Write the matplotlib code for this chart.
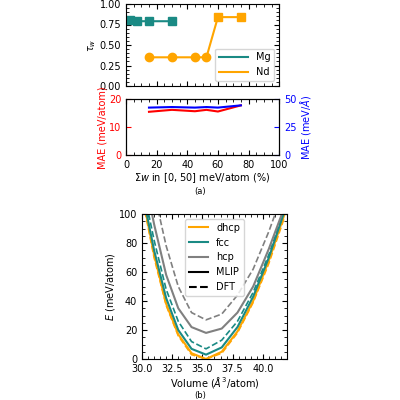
import numpy as np
import matplotlib.pyplot as plt
from matplotlib.lines import Line2D
from matplotlib.ticker import AutoMinorLocator

plt.rcParams["font.size"] = 7

teal = "#1a8a84"
orange = "#ffa500"

# (a) top
mg_x = [2.5, 7.5, 15, 30]
mg_tau = [0.80, 0.79, 0.79, 0.79]
nd_x = [15, 30, 45, 52.5, 60, 75]
nd_tau = [0.35, 0.35, 0.35, 0.35, 0.84, 0.84]
nd_marker = ["o", "o", "o", "o", "s", "s"]

# (a) bottom
mae_x = [15, 30, 45, 52.5, 60, 75]
mae_e = [15.5, 16.2, 15.7, 16.2, 15.6, 17.8]
mae_f = [42.5, 43.0, 42.5, 43.0, 42.5, 44.5]

# (b)
vol = [30.1, 31.0, 32.0, 33.0, 34.1, 35.3, 36.6, 37.9, 39.2, 40.5, 41.8]
dhcp_mlip = [110, 72, 38, 17, 4, 0, 5, 19, 40, 68, 100]
dhcp_dft = [108, 70, 37, 16, 3, 0, 4, 18, 39, 66, 98]
fcc_mlip = [112, 75, 42, 20, 7, 3, 8, 22, 43, 70, 102]
fcc_dft = [118, 82, 48, 26, 12, 7, 13, 26, 46, 72, 103]
hcp_mlip = [130, 93, 58, 35, 22, 18, 21, 32, 50, 76, 105]
hcp_dft = [150, 115, 78, 50, 32, 27, 31, 44, 62, 88, 118]


def style(ax):
    ax.xaxis.set_minor_locator(AutoMinorLocator())
    ax.yaxis.set_minor_locator(AutoMinorLocator())
    ax.tick_params(which="both", direction="in", top=True, right=True)


fig = plt.figure(figsize=(4, 4), dpi=100)

ax1 = fig.add_axes([0.315, 0.785, 0.383, 0.205])
ax1.plot(mg_x, mg_tau, color=teal, lw=1.5, marker="s", ms=6)
ax1.plot(nd_x, nd_tau, color=orange, lw=1.5)
for x, y, m in zip(nd_x, nd_tau, nd_marker):
    ax1.plot(x, y, marker=m, color=orange, ms=6)
ax1.set_xlim(0, 100)
ax1.set_ylim(0, 1)
ax1.set_yticks([0, 0.25, 0.5, 0.75, 1.0])
ax1.set_xticklabels([])
ax1.set_ylabel(r"$\tau_w$", labelpad=1)
ax1.legend(handles=[Line2D([], [], color=teal, lw=1.5, label="Mg"),
                    Line2D([], [], color=orange, lw=1.5, label="Nd")],
           loc="lower right", handlelength=3)
style(ax1)

ax2 = fig.add_axes([0.315, 0.612, 0.383, 0.14])
ax2.plot(mae_x, mae_e, color="red", lw=1.5)
ax2.set_xlim(0, 100)
ax2.set_ylim(0, 20)
ax2.set_ylabel("MAE (meV/atom)", color="red", labelpad=1)
ax2.tick_params(axis="y", colors="red")
ax2.set_xlabel(r"$\Sigma w$ in [0, 50] meV/atom (%)", labelpad=1)
ax2.xaxis.set_minor_locator(AutoMinorLocator())
ax2.tick_params(which="both", direction="in", top=True)
ax2b = ax2.twinx()
ax2b.plot(mae_x, mae_f, color="blue", lw=1.5)
ax2b.set_ylim(0, 50)
ax2b.set_yticks([0, 25, 50])
ax2b.set_ylabel(r"MAE (meV/$\AA$)", color="blue", labelpad=1)
ax2b.tick_params(axis="y", colors="blue", direction="in")
fig.text(0.5, 0.515, "(a)", ha="center", fontsize=6)

ax3 = fig.add_axes([0.355, 0.1025, 0.3625, 0.3625])
ax3.plot(vol, dhcp_dft, color=orange, lw=1.2, ls="--")
ax3.plot(vol, dhcp_mlip, color=orange, lw=1.5)
ax3.plot(vol, fcc_dft, color=teal, lw=1.2, ls="--")
ax3.plot(vol, fcc_mlip, color=teal, lw=1.5)
ax3.plot(vol, hcp_dft, color="gray", lw=1.2, ls="--")
ax3.plot(vol, hcp_mlip, color="gray", lw=1.5)
ax3.set_xlim(30, 42)
ax3.set_ylim(0, 100)
ax3.set_xticks([30, 32.5, 35, 37.5, 40])
ax3.set_xlabel(r"Volume ($\AA^3$/atom)", labelpad=1)
ax3.set_ylabel(r"$E$ (meV/atom)", labelpad=1)
ax3.legend(handles=[Line2D([], [], color=orange, lw=1.5, label="dhcp"),
                    Line2D([], [], color=teal, lw=1.5, label="fcc"),
                    Line2D([], [], color="gray", lw=1.5, label="hcp"),
                    Line2D([], [], color="black", lw=1.5, label="MLIP"),
                    Line2D([], [], color="black", lw=1.5, ls="--", label="DFT")],
           loc="upper center")
style(ax3)
fig.text(0.5, 0.005, "(b)", ha="center", fontsize=6)

fig.savefig("out.png")
